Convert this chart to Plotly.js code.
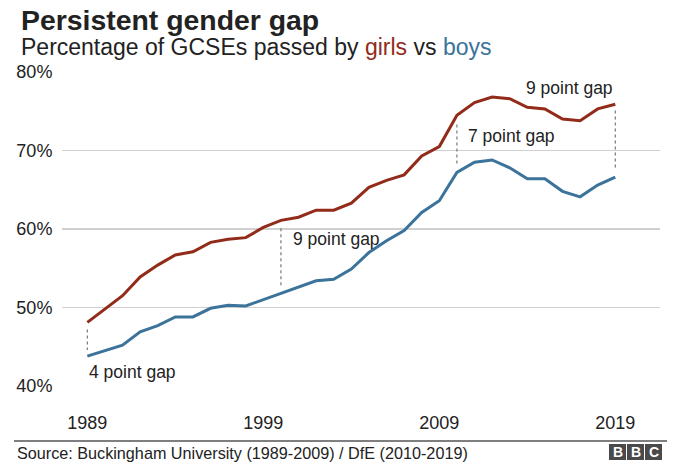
<!DOCTYPE html>
<html>
<head>
<meta charset="utf-8">
<script src="https://cdn.plot.ly/plotly-3.0.1.min.js"></script>
<style>
  html, body { margin: 0; padding: 0; background: #fff; }
  #chart { width: 680px; height: 464px; }
</style>
</head>
<body>
<div id="chart"></div>
<script>
var years = [1989, 1990, 1991, 1992, 1993, 1994, 1995, 1996, 1997, 1998, 1999,
             2000, 2001, 2002, 2003, 2004, 2005, 2006, 2007, 2008, 2009,
             2010, 2011, 2012, 2013, 2014, 2015, 2016, 2017, 2018, 2019];
var girls = [48.1, 49.8, 51.5, 53.9, 55.4, 56.7, 57.1, 58.3, 58.7, 58.9, 60.2,
             61.1, 61.5, 62.4, 62.4, 63.3, 65.3, 66.2, 66.9, 69.3, 70.5,
             74.5, 76.1, 76.8, 76.6, 75.5, 75.3, 74.0, 73.8, 75.3, 75.9];
var boys = [43.8, 44.5, 45.2, 46.9, 47.7, 48.8, 48.8, 49.9, 50.3, 50.2, 51.0,
            51.8, 52.7, 53.4, 53.6, 54.9, 57.0, 58.5, 59.8, 62.1, 63.6,
            67.2, 68.5, 68.8, 67.8, 66.4, 66.4, 64.8, 64.1, 65.6, 66.6];

// dotted gap markers
var gapYears = [1989, 2000, 2010, 2019];
var gapTop = [47.2, 60.1, 73.3, 75.1];
var gapBottom = [44.6, 52.8, 68.0, 67.5];
var gapLabels = ['4 point gap', '9 point gap', '7 point gap', '9 point gap'];

var yTicks = [40, 50, 60, 70, 80];
var xTicks = [1989, 1999, 2009, 2019];

var RED = '#922b1a';
var BLUE = '#3b739a';
var FONT = 'Liberation Sans, Arial, Helvetica, sans-serif';

// plot area in pixels
var L = 62, R = 660, T = 72, B = 386;
function px(x) { return (x - L) / (R - L); }
function py(y) { return (B - y) / (B - T); }

var gx = [], gy = [];
gapYears.forEach(function (yr, i) {
  gx.push(yr, yr, null);
  gy.push(gapTop[i], gapBottom[i], null);
});

var data = [
  {
    x: gx, y: gy, type: 'scatter', mode: 'lines',
    line: { color: '#777', width: 1.2, dash: 'dot' },
    hoverinfo: 'skip', showlegend: false
  },
  {
    x: years, y: girls, type: 'scatter', mode: 'lines', name: 'girls',
    line: { color: RED, width: 3 }
  },
  {
    x: years, y: boys, type: 'scatter', mode: 'lines', name: 'boys',
    line: { color: BLUE, width: 3 }
  }
];

var annotations = [
  {
    text: '<b>Persistent gender gap</b>', xref: 'paper', yref: 'paper',
    x: px(19), y: py(20), xanchor: 'left', yanchor: 'middle', showarrow: false,
    font: { family: FONT, size: 28.4, color: '#222' }
  },
  {
    text: 'Percentage of GCSEs passed by <span style="color:' + RED + '">girls</span> vs <span style="color:' + BLUE + '">boys</span>',
    xref: 'paper', yref: 'paper',
    x: px(19), y: py(47), xanchor: 'left', yanchor: 'middle', showarrow: false,
    font: { family: FONT, size: 23, color: '#222' }
  },
  {
    text: 'Source: Buckingham University (1989-2009) / DfE (2010-2019)',
    xref: 'paper', yref: 'paper',
    x: px(15), y: py(453), xanchor: 'left', yanchor: 'middle', showarrow: false,
    font: { family: FONT, size: 16.2, color: '#222' }
  }
];

// gap labels
var labelPos = [
  { x: 1989, y: 41.8, anchor: 'left' },
  { x: 2000.55, y: 58.75, anchor: 'left' },
  { x: 2010.5, y: 71.9, anchor: 'left' },
  { x: 2019, y: 78.0, anchor: 'right' }
];
gapLabels.forEach(function (t, i) {
  annotations.push({
    text: t, x: labelPos[i].x, y: labelPos[i].y, xref: 'x', yref: 'y',
    xanchor: labelPos[i].anchor, yanchor: 'middle', showarrow: false,
    font: { family: FONT, size: 17.5, color: '#222' }
  });
});

// BBC blocks
var shapes = [
  {
    type: 'line', xref: 'paper', yref: 'paper',
    x0: px(14), x1: px(667), y0: py(441), y1: py(441),
    line: { color: '#555', width: 1.5 }
  }
];
var bbcX = [609, 627, 645];
['B', 'B', 'C'].forEach(function (ch, i) {
  shapes.push({
    type: 'rect', xref: 'paper', yref: 'paper',
    x0: px(bbcX[i]), x1: px(bbcX[i] + 17), y0: py(444), y1: py(460),
    fillcolor: '#4a4a4a', line: { width: 0 }
  });
  annotations.push({
    text: '<b>' + ch + '</b>', xref: 'paper', yref: 'paper',
    x: px(bbcX[i] + 8.5), y: py(452), xanchor: 'center', yanchor: 'middle',
    showarrow: false, font: { family: FONT, size: 14, color: '#fff' }
  });
});

var layout = {
  width: 680, height: 464,
  margin: { l: L, r: 680 - R, t: T, b: 464 - B, pad: 0 },
  paper_bgcolor: '#fff', plot_bgcolor: '#fff',
  showlegend: false,
  font: { family: FONT, color: '#222' },
  xaxis: {
    range: [1987.56, 2021.54], tickvals: xTicks, ticktext: xTicks.map(String),
    showgrid: false, zeroline: false, showline: false,
    ticks: 'outside', ticklen: 20, tickcolor: 'rgba(0,0,0,0)',
    tickfont: { family: FONT, size: 18, color: '#222' }
  },
  yaxis: {
    range: [40, 80], tickvals: yTicks, ticktext: yTicks.map(function (v) { return v + '%'; }),
    showgrid: true, gridcolor: '#d0d0d0', gridwidth: 1.2, zeroline: false, showline: false,
    ticks: 'outside', ticklen: 5, tickcolor: 'rgba(0,0,0,0)',
    tickfont: { family: FONT, size: 18, color: '#222' }
  },
  annotations: annotations,
  shapes: shapes
};

Plotly.newPlot('chart', data, layout, { displayModeBar: false, staticPlot: true });
</script>
</body>
</html>
